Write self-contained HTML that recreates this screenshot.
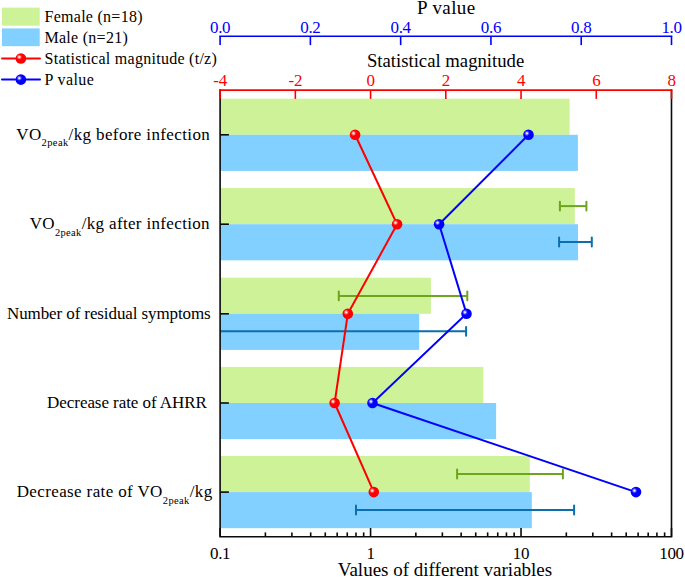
<!DOCTYPE html><html><head><meta charset="utf-8"><style>html,body{margin:0;padding:0;background:#fff}svg{display:block}text{font-family:"Liberation Serif",serif;}</style></head><body>
<svg width="685" height="578" viewBox="0 0 685 578">
<defs><radialGradient id="hl" cx="0.5" cy="0.5" r="0.5"><stop offset="0" stop-color="#fff" stop-opacity="1"/><stop offset="0.25" stop-color="#fff" stop-opacity="0.85"/><stop offset="0.6" stop-color="#fff" stop-opacity="0.35"/><stop offset="1" stop-color="#fff" stop-opacity="0"/></radialGradient></defs>
<rect width="685" height="578" fill="#fff"/>
<rect x="220.1" y="98.70" width="349.50" height="36.10" fill="#cdf297"/>
<rect x="220.1" y="134.80" width="357.80" height="36.10" fill="#82d0ff"/>
<rect x="220.1" y="188.10" width="354.70" height="36.10" fill="#cdf297"/>
<rect x="220.1" y="224.20" width="357.90" height="36.10" fill="#82d0ff"/>
<rect x="220.1" y="277.70" width="210.80" height="36.10" fill="#cdf297"/>
<rect x="220.1" y="313.80" width="199.10" height="36.10" fill="#82d0ff"/>
<rect x="220.1" y="366.90" width="263.20" height="36.10" fill="#cdf297"/>
<rect x="220.1" y="403.00" width="276.00" height="36.10" fill="#82d0ff"/>
<rect x="220.1" y="456.00" width="309.70" height="36.10" fill="#cdf297"/>
<rect x="220.1" y="492.10" width="311.70" height="36.10" fill="#82d0ff"/>
<path d="M559.9 206.1H586.4" stroke="#6ea51e" stroke-width="2" fill="none"/>
<path d="M559.9 201.7V210.5" stroke="#6ea51e" stroke-width="2" fill="none" stroke-linecap="round"/>
<path d="M586.4 201.7V210.5" stroke="#6ea51e" stroke-width="2" fill="none" stroke-linecap="round"/>
<path d="M559.1 242H591.8" stroke="#0b6eae" stroke-width="2" fill="none"/>
<path d="M559.1 237.6V246.4" stroke="#0b6eae" stroke-width="2" fill="none" stroke-linecap="round"/>
<path d="M591.8 237.6V246.4" stroke="#0b6eae" stroke-width="2" fill="none" stroke-linecap="round"/>
<path d="M338.8 295.9H467.3" stroke="#6ea51e" stroke-width="2" fill="none"/>
<path d="M338.8 291.5V300.29999999999995" stroke="#6ea51e" stroke-width="2" fill="none" stroke-linecap="round"/>
<path d="M467.3 291.5V300.29999999999995" stroke="#6ea51e" stroke-width="2" fill="none" stroke-linecap="round"/>
<path d="M220 331.3H466.1" stroke="#0b6eae" stroke-width="2" fill="none"/>
<path d="M466.1 326.90000000000003V335.7" stroke="#0b6eae" stroke-width="2" fill="none" stroke-linecap="round"/>
<path d="M457.1 474H562.9" stroke="#6ea51e" stroke-width="2" fill="none"/>
<path d="M457.1 469.6V478.4" stroke="#6ea51e" stroke-width="2" fill="none" stroke-linecap="round"/>
<path d="M562.9 469.6V478.4" stroke="#6ea51e" stroke-width="2" fill="none" stroke-linecap="round"/>
<path d="M356 510H574.1" stroke="#0b6eae" stroke-width="2" fill="none"/>
<path d="M356 505.6V514.4" stroke="#0b6eae" stroke-width="2" fill="none" stroke-linecap="round"/>
<path d="M574.1 505.6V514.4" stroke="#0b6eae" stroke-width="2" fill="none" stroke-linecap="round"/>
<path d="M220.1 90.1V536.8H671.5V90.1" stroke="#0a0a0a" stroke-width="1.6" fill="none" stroke-linecap="square"/>
<path d="M220.10 536.8v-8.8" stroke="#0a0a0a" stroke-width="1.6"/>
<path d="M265.39 536.8v-4.4" stroke="#0a0a0a" stroke-width="1.6"/>
<path d="M291.89 536.8v-4.4" stroke="#0a0a0a" stroke-width="1.6"/>
<path d="M310.69 536.8v-4.4" stroke="#0a0a0a" stroke-width="1.6"/>
<path d="M325.27 536.8v-4.4" stroke="#0a0a0a" stroke-width="1.6"/>
<path d="M337.19 536.8v-4.4" stroke="#0a0a0a" stroke-width="1.6"/>
<path d="M347.26 536.8v-4.4" stroke="#0a0a0a" stroke-width="1.6"/>
<path d="M355.98 536.8v-4.4" stroke="#0a0a0a" stroke-width="1.6"/>
<path d="M363.68 536.8v-4.4" stroke="#0a0a0a" stroke-width="1.6"/>
<path d="M370.57 536.8v-8.8" stroke="#0a0a0a" stroke-width="1.6"/>
<path d="M415.86 536.8v-4.4" stroke="#0a0a0a" stroke-width="1.6"/>
<path d="M442.36 536.8v-4.4" stroke="#0a0a0a" stroke-width="1.6"/>
<path d="M461.16 536.8v-4.4" stroke="#0a0a0a" stroke-width="1.6"/>
<path d="M475.74 536.8v-4.4" stroke="#0a0a0a" stroke-width="1.6"/>
<path d="M487.65 536.8v-4.4" stroke="#0a0a0a" stroke-width="1.6"/>
<path d="M497.73 536.8v-4.4" stroke="#0a0a0a" stroke-width="1.6"/>
<path d="M506.45 536.8v-4.4" stroke="#0a0a0a" stroke-width="1.6"/>
<path d="M514.15 536.8v-4.4" stroke="#0a0a0a" stroke-width="1.6"/>
<path d="M521.03 536.8v-8.8" stroke="#0a0a0a" stroke-width="1.6"/>
<path d="M566.33 536.8v-4.4" stroke="#0a0a0a" stroke-width="1.6"/>
<path d="M592.82 536.8v-4.4" stroke="#0a0a0a" stroke-width="1.6"/>
<path d="M611.62 536.8v-4.4" stroke="#0a0a0a" stroke-width="1.6"/>
<path d="M626.21 536.8v-4.4" stroke="#0a0a0a" stroke-width="1.6"/>
<path d="M638.12 536.8v-4.4" stroke="#0a0a0a" stroke-width="1.6"/>
<path d="M648.19 536.8v-4.4" stroke="#0a0a0a" stroke-width="1.6"/>
<path d="M656.92 536.8v-4.4" stroke="#0a0a0a" stroke-width="1.6"/>
<path d="M664.62 536.8v-4.4" stroke="#0a0a0a" stroke-width="1.6"/>
<path d="M671.50 536.8v-8.8" stroke="#0a0a0a" stroke-width="1.6"/>
<path d="M220.1 134.80h8.8" stroke="#0a0a0a" stroke-width="1.6"/>
<path d="M220.1 224.20h8.8" stroke="#0a0a0a" stroke-width="1.6"/>
<path d="M220.1 313.80h8.8" stroke="#0a0a0a" stroke-width="1.6"/>
<path d="M220.1 403.00h8.8" stroke="#0a0a0a" stroke-width="1.6"/>
<path d="M220.1 492.10h8.8" stroke="#0a0a0a" stroke-width="1.6"/>
<path d="M220.1 90.1H671.5" stroke="#ff0000" stroke-width="1.6" stroke-linecap="square"/>
<path d="M220.10 90.1v8.8" stroke="#ff0000" stroke-width="1.6"/>
<text x="220.10" y="85.8" font-size="17" letter-spacing="-0.35" fill="#ff0000" text-anchor="middle">-4</text>
<path d="M295.33 90.1v8.8" stroke="#ff0000" stroke-width="1.6"/>
<text x="295.33" y="85.8" font-size="17" letter-spacing="-0.35" fill="#ff0000" text-anchor="middle">-2</text>
<path d="M370.57 90.1v8.8" stroke="#ff0000" stroke-width="1.6"/>
<text x="370.57" y="85.8" font-size="17" letter-spacing="-0.35" fill="#ff0000" text-anchor="middle">0</text>
<path d="M445.80 90.1v8.8" stroke="#ff0000" stroke-width="1.6"/>
<text x="445.80" y="85.8" font-size="17" letter-spacing="-0.35" fill="#ff0000" text-anchor="middle">2</text>
<path d="M521.03 90.1v8.8" stroke="#ff0000" stroke-width="1.6"/>
<text x="521.03" y="85.8" font-size="17" letter-spacing="-0.35" fill="#ff0000" text-anchor="middle">4</text>
<path d="M596.27 90.1v8.8" stroke="#ff0000" stroke-width="1.6"/>
<text x="596.27" y="85.8" font-size="17" letter-spacing="-0.35" fill="#ff0000" text-anchor="middle">6</text>
<path d="M671.50 90.1v8.8" stroke="#ff0000" stroke-width="1.6"/>
<text x="671.50" y="85.8" font-size="17" letter-spacing="-0.35" fill="#ff0000" text-anchor="middle">8</text>
<path d="M220.1 36.3H671.5" stroke="#0000ff" stroke-width="1.6" stroke-linecap="square"/>
<path d="M220.10 36.3v8.8" stroke="#0000ff" stroke-width="1.6"/>
<text x="220.10" y="32.7" font-size="17" letter-spacing="-0.35" fill="#0000ff" text-anchor="middle">0.0</text>
<path d="M310.38 36.3v8.8" stroke="#0000ff" stroke-width="1.6"/>
<text x="310.38" y="32.7" font-size="17" letter-spacing="-0.35" fill="#0000ff" text-anchor="middle">0.2</text>
<path d="M400.66 36.3v8.8" stroke="#0000ff" stroke-width="1.6"/>
<text x="400.66" y="32.7" font-size="17" letter-spacing="-0.35" fill="#0000ff" text-anchor="middle">0.4</text>
<path d="M490.94 36.3v8.8" stroke="#0000ff" stroke-width="1.6"/>
<text x="490.94" y="32.7" font-size="17" letter-spacing="-0.35" fill="#0000ff" text-anchor="middle">0.6</text>
<path d="M581.22 36.3v8.8" stroke="#0000ff" stroke-width="1.6"/>
<text x="581.22" y="32.7" font-size="17" letter-spacing="-0.35" fill="#0000ff" text-anchor="middle">0.8</text>
<path d="M671.50 36.3v8.8" stroke="#0000ff" stroke-width="1.6"/>
<text x="671.50" y="32.7" font-size="17" letter-spacing="-0.35" fill="#0000ff" text-anchor="middle">1.0</text>
<polyline points="355.1,134.8 397.1,224.2 347.8,313.8 334.6,403.0 373.8,492.1" stroke="#ff0000" stroke-width="2" fill="none"/>
<polyline points="528.5,134.8 439.1,224.2 466.5,313.8 372.5,403.0 636,492.1" stroke="#0000ff" stroke-width="2" fill="none"/>
<circle cx="355.1" cy="134.8" r="5.3" fill="#ff0000"/><circle cx="353.50" cy="133.30" r="2.8" fill="url(#hl)"/>
<circle cx="397.1" cy="224.2" r="5.3" fill="#ff0000"/><circle cx="395.50" cy="222.70" r="2.8" fill="url(#hl)"/>
<circle cx="347.8" cy="313.8" r="5.3" fill="#ff0000"/><circle cx="346.20" cy="312.30" r="2.8" fill="url(#hl)"/>
<circle cx="334.6" cy="403.0" r="5.3" fill="#ff0000"/><circle cx="333.00" cy="401.50" r="2.8" fill="url(#hl)"/>
<circle cx="373.8" cy="492.1" r="5.3" fill="#ff0000"/><circle cx="372.20" cy="490.60" r="2.8" fill="url(#hl)"/>
<circle cx="528.5" cy="134.8" r="5.3" fill="#0000ff"/><circle cx="526.90" cy="133.30" r="2.8" fill="url(#hl)"/>
<circle cx="439.1" cy="224.2" r="5.3" fill="#0000ff"/><circle cx="437.50" cy="222.70" r="2.8" fill="url(#hl)"/>
<circle cx="466.5" cy="313.8" r="5.3" fill="#0000ff"/><circle cx="464.90" cy="312.30" r="2.8" fill="url(#hl)"/>
<circle cx="372.5" cy="403.0" r="5.3" fill="#0000ff"/><circle cx="370.90" cy="401.50" r="2.8" fill="url(#hl)"/>
<circle cx="636" cy="492.1" r="5.3" fill="#0000ff"/><circle cx="634.40" cy="490.60" r="2.8" fill="url(#hl)"/>
<text x="446.3" y="14" font-size="19" letter-spacing="0.4" text-anchor="middle">P value</text>
<text x="445.6" y="67.3" font-size="18.7" text-anchor="middle">Statistical magnitude</text>
<text x="445" y="576" font-size="19" text-anchor="middle">Values of different variables</text>
<text x="220.10" y="558.8" font-size="17" letter-spacing="-0.35" text-anchor="middle">0.1</text>
<text x="370.57" y="558.8" font-size="17" letter-spacing="-0.35" text-anchor="middle">1</text>
<text x="521.03" y="558.8" font-size="17" letter-spacing="-0.35" text-anchor="middle">10</text>
<text x="671.50" y="558.8" font-size="17" letter-spacing="-0.35" text-anchor="middle">100</text>
<text x="16.30" y="140.00" font-size="17" textLength="193.50" lengthAdjust="spacing" xml:space="preserve">VO<tspan font-size="10.5" dy="6.3">2peak</tspan><tspan dy="-6.3">/kg before infection</tspan></text>
<text x="29.70" y="229.40" font-size="17" textLength="179.90" lengthAdjust="spacing" xml:space="preserve">VO<tspan font-size="10.5" dy="6.3">2peak</tspan><tspan dy="-6.3">/kg after infection</tspan></text>
<text x="7.00" y="319.00" font-size="17" textLength="203.70" lengthAdjust="spacing" xml:space="preserve">Number of residual symptoms</text>
<text x="47.10" y="408.20" font-size="17" textLength="159.80" lengthAdjust="spacing" xml:space="preserve">Decrease rate of AHRR</text>
<text x="16.70" y="497.30" font-size="17" textLength="195.50" lengthAdjust="spacing" xml:space="preserve">Decrease rate of VO<tspan font-size="10.5" dy="6.3">2peak</tspan><tspan dy="-6.3">/kg</tspan></text>
<rect x="2" y="7.6" width="37.7" height="18.1" fill="#cdf297"/>
<rect x="2" y="28.4" width="37.7" height="17.8" fill="#82d0ff"/>
<path d="M2 58.5H40" stroke="#ff0000" stroke-width="2" stroke-linecap="round"/>
<circle cx="20.9" cy="58.5" r="5.3" fill="#ff0000"/><circle cx="19.30" cy="57.00" r="2.8" fill="url(#hl)"/>
<path d="M2 79.6H40" stroke="#0000ff" stroke-width="2" stroke-linecap="round"/>
<circle cx="20.9" cy="79.6" r="5.3" fill="#0000ff"/><circle cx="19.30" cy="78.10" r="2.8" fill="url(#hl)"/>
<text x="44.5" y="22.3" font-size="16" letter-spacing="0.27">Female (n=18)</text>
<text x="44.5" y="43" font-size="16" letter-spacing="0.27">Male (n=21)</text>
<text x="44.5" y="64.1" font-size="16" letter-spacing="0.27">Statistical magnitude (t/z)</text>
<text x="44.5" y="85" font-size="16" letter-spacing="0.4">P value</text>
</svg></body></html>
